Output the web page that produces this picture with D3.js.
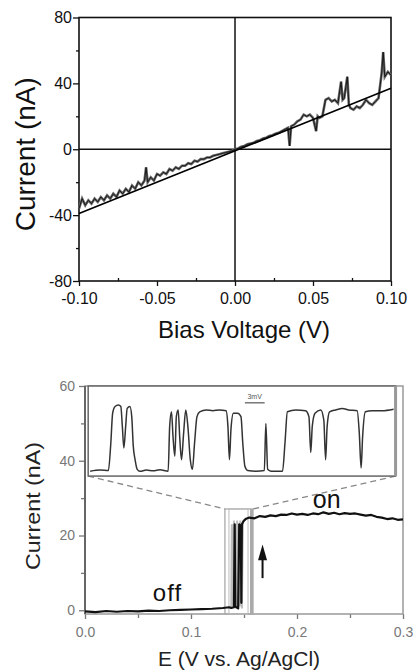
<!DOCTYPE html>
<html>
<head>
<meta charset="utf-8">
<script src="https://cdn.jsdelivr.net/npm/d3@7"></script>
<style>
  body { margin: 0; background: #fff; }
  svg { display: block; font-family: "Liberation Sans", Arial, sans-serif; }
</style>
</head>
<body>
<div id="chart"></div>
<script>
// ---- top panel: I-V curve ----
var ivVoltage = [-0.100,-0.098,-0.096,-0.094,-0.092,-0.090,-0.088,-0.086,-0.084,-0.082,-0.080,-0.078,-0.076,-0.074,-0.072,-0.070,-0.068,-0.066,-0.064,-0.062,-0.060,-0.058,-0.057,-0.056,-0.054,-0.052,-0.050,-0.048,-0.046,-0.044,-0.042,-0.040,-0.038,-0.036,-0.034,-0.032,-0.030,-0.028,-0.026,-0.024,-0.022,-0.020,-0.018,-0.016,-0.014,-0.012,-0.010,-0.008,-0.006,-0.004,-0.002,0.000,0.002,0.004,0.006,0.008,0.010,0.012,0.014,0.016,0.018,0.020,0.022,0.024,0.026,0.028,0.030,0.032,0.034,0.035,0.036,0.038,0.040,0.042,0.044,0.046,0.048,0.050,0.052,0.053,0.054,0.056,0.058,0.060,0.062,0.064,0.066,0.068,0.069,0.070,0.072,0.073,0.074,0.076,0.078,0.080,0.082,0.084,0.086,0.088,0.090,0.092,0.094,0.095,0.096,0.098,0.100];
var ivCurrent = [-36,-30,-34,-31,-33,-30,-32,-29,-31,-28,-30,-27,-29,-25,-27,-24,-26,-22,-24,-20,-22,-19,-11,-20,-17,-19,-15,-16,-14,-15,-12,-13,-11,-12,-10,-10,-8.5,-9,-7,-7.5,-6,-6,-5,-5,-4,-3.5,-3,-2.5,-2,-1.5,-1,0,0.5,1.5,2,3,3.5,4,5,5.5,6.5,7,8,8.5,9.5,10,11,12,13,2,14,15,17,18,21,20,21,19,11,20,19,20,30,31,29,30,28,41,30,31,44,27,25,24,26,25,27,30,28,27,29,31,46,59,44,47,45];
var fitVoltage = [-0.1, 0.1];
var fitCurrent = [-39, 37];
var topXTicks = [-0.10, -0.05, 0.00, 0.05, 0.10];
var topXLabels = ["-0.10", "-0.05", "0.00", "0.05", "0.10"];
var topYTicks = [-80, -40, 0, 40, 80];
var topYLabels = ["-80", "-40", "0", "40", "80"];

// ---- bottom panel: switching vs potential ----
var swE = [0.000,0.010,0.020,0.030,0.040,0.050,0.060,0.070,0.080,0.090,0.100,0.110,0.120,0.130,0.136,0.1380,0.1405,0.1412,0.1418,0.1445,0.1455,0.1470,0.1475,0.1480,0.150,0.152,0.155,0.160,0.165,0.170,0.175,0.180,0.185,0.190,0.195,0.200,0.205,0.210,0.215,0.220,0.225,0.230,0.235,0.240,0.245,0.250,0.255,0.260,0.265,0.270,0.275,0.280,0.285,0.290,0.295,0.300];
var swI = [-0.3,-0.5,-0.2,-0.4,-0.2,-0.3,-0.1,-0.2,0.0,0.1,0.2,0.3,0.4,0.6,0.8,0.6,0.8,23,1,0.5,23,22.5,2,23,24,24.5,24.8,24.6,25.2,25.0,25.4,25.2,25.6,25.5,25.9,25.6,25.8,25.5,25.9,25.7,26.2,25.8,26.1,25.7,26.0,25.8,25.9,25.6,25.3,25.5,25.0,24.8,24.4,24.6,24.2,24.3];
// grey shaded repeated sweeps in the switching window
var greyE = [0.1370,0.1380,0.1385,0.1390,0.1395,0.1400,0.1405,0.1410,0.1415,0.1420,0.1425,0.1430,0.1435,0.1440,0.1445,0.1450,0.1455,0.1460,0.1465,0.1470,0.1475,0.1480,0.1490];
var greyI = [0.5,1,23,3,22,1,24,2,23,0.5,22,2,24,1,23,3,22,1,24,2,23,0.5,24];
// inset trace (arbitrary time units, current in nA)
var insetT = [0,3.3,6.0,6.8,7.4,8.2,9.3,10.1,10.6,11.1,11.7,12.2,13.1,13.7,14.2,14.8,15.5,16.4,18.5,20.8,23.0,25.7,26.2,26.8,27.3,27.9,28.4,29.0,29.5,30.1,30.8,31.5,32.2,33.0,33.7,34.4,35.2,36.1,38.3,40.4,42.6,44.8,45.4,45.9,46.4,47.2,48.6,49.7,50.3,51.0,51.9,54.6,57.4,57.9,58.5,59.6,63.4,64.2,65.0,67.8,71.0,72.1,72.7,73.2,74.1,76.0,77.0,77.6,78.1,78.9,80.9,83.1,85.2,88.0,88.7,89.3,89.8,90.7,92.9,96.2,100];
var insetI = [37.2,37.5,37.4,44.7,52.7,54.5,54.9,54.5,49.2,43.4,49.2,54.0,54.5,51.8,43.9,40.3,37.7,37.2,37.5,37.3,37.6,37.2,49.2,53.1,46.5,41.2,51.8,53.6,46.5,40.3,47.4,53.6,49.2,40.3,37.7,44.7,51.8,53.1,53.6,53.4,53.6,53.4,49.2,40.3,48.4,52.7,52.7,51.8,44.7,38.5,37.4,37.2,37.4,50.0,37.7,37.2,37.2,44.7,53.1,53.6,53.4,51.8,42.2,49.2,52.7,53.6,50.9,40.3,49.2,53.1,53.6,54.0,53.6,53.4,47.4,38.1,46.5,53.1,53.4,53.4,53.8];
var botXTicks = [0.0, 0.1, 0.2, 0.3];
var botXLabels = ["0.0", "0.1", "0.2", "0.3"];
var botYTicks = [0, 20, 40, 60];
var botYLabels = ["0", "20", "40", "60"];
// annotation boxes in data units
var insetBox = { e0: 0.003, e1: 0.293, i0: 35.9, i1: 60 };
var zoomBox = { e0: 0.132, e1: 0.1585, i1: 27.1 };
var zoomInner = { e0: 0.1358, e1: 0.1538 };

var svg = d3.select("#chart").append("svg")
    .attr("width", 417)
    .attr("height", 671);

// ================= top panel =================
var xTop = d3.scaleLinear().domain([-0.1, 0.1]).range([79, 391]);
var yTop = d3.scaleLinear().domain([-80, 80]).range([281, 17.5]);
var topG = svg.append("g");

// minor ticks
topG.append("g")
    .attr("transform", `translate(0, ${yTop(-80)})`)
    .call(d3.axisBottom(xTop).tickValues([-0.075, -0.025, 0.025, 0.075]).tickSize(-3).tickFormat(""))
    .call(g => g.select(".domain").remove());
topG.append("g")
    .attr("transform", `translate(${xTop(-0.1)}, 0)`)
    .call(d3.axisLeft(yTop).tickValues([-60, -20, 20, 60]).tickSize(3).tickFormat(""))
    .call(g => g.select(".domain").remove());

var topX = topG.append("g")
    .attr("transform", `translate(0, ${yTop(-80)})`)
    .call(d3.axisBottom(xTop).tickValues(topXTicks).tickSize(5).tickPadding(7)
        .tickFormat((d, i) => topXLabels[i]));
topX.select(".domain").remove();
topX.selectAll("text").attr("font-size", 16).attr("font-family", "Liberation Sans, Arial").attr("fill", "#111");

var topY = topG.append("g")
    .attr("transform", `translate(${xTop(-0.1)}, 0)`)
    .call(d3.axisLeft(yTop).tickValues(topYTicks).tickSize(6).tickPadding(1)
        .tickFormat((d, i) => topYLabels[i]));
topY.select(".domain").remove();
topY.selectAll("text").attr("font-size", 16).attr("font-family", "Liberation Sans, Arial").attr("fill", "#111");
topG.selectAll(".tick line").attr("stroke", "#111").attr("stroke-width", 1.3);

// frame + zero cross
topG.append("rect")
    .attr("x", xTop(-0.1)).attr("y", yTop(80))
    .attr("width", xTop(0.1) - xTop(-0.1)).attr("height", yTop(-80) - yTop(80))
    .attr("fill", "none").attr("stroke", "#111").attr("stroke-width", 1.6);
topG.append("line")
    .attr("x1", xTop(0)).attr("x2", xTop(0)).attr("y1", yTop(80)).attr("y2", yTop(-80))
    .attr("stroke", "#111").attr("stroke-width", 1.5);
topG.append("line")
    .attr("x1", xTop(-0.1)).attr("x2", xTop(0.1)).attr("y1", yTop(0)).attr("y2", yTop(0))
    .attr("stroke", "#111").attr("stroke-width", 1.5);

// measured trace
var ivLine = d3.line().x(d => xTop(d[0])).y(d => yTop(d[1]));
topG.append("path")
    .datum(ivVoltage.map((v, i) => [v, ivCurrent[i]]))
    .attr("d", ivLine)
    .attr("fill", "none").attr("stroke", "#666").attr("stroke-width", 2.6);
topG.append("path")
    .datum(ivVoltage.map((v, i) => [v, ivCurrent[i]]))
    .attr("d", ivLine)
    .attr("fill", "none").attr("stroke", "#111").attr("stroke-width", 0.9);
// linear fit
topG.append("path")
    .datum(fitVoltage.map((v, i) => [v, fitCurrent[i]]))
    .attr("d", ivLine)
    .attr("fill", "none").attr("stroke", "#000").attr("stroke-width", 1.6);

topG.append("text")
    .attr("transform", `translate(35, ${yTop(0) + 5}) rotate(-90)`)
    .attr("text-anchor", "middle")
    .attr("font-size", 28)
    .attr("fill", "#111")
    .text("Current (nA)");
topG.append("text")
    .attr("x", 244).attr("y", 338)
    .attr("text-anchor", "middle")
    .attr("font-size", 24)
    .attr("fill", "#111")
    .text("Bias Voltage (V)");

// ================= bottom panel =================
var xBot = d3.scaleLinear().domain([0, 0.3]).range([85, 403]);
var yBot = d3.scaleLinear().domain([-1, 60]).range([614, 386]);
var botG = svg.append("g");

botG.append("g")
    .attr("transform", `translate(0, ${yBot(-1)})`)
    .call(d3.axisBottom(xBot).tickValues([0.05, 0.15, 0.25]).tickSize(4).tickFormat(""))
    .call(g => g.select(".domain").remove());
botG.append("g")
    .attr("transform", `translate(${xBot(0)}, 0)`)
    .call(d3.axisLeft(yBot).tickValues([10, 30, 50]).tickSize(4).tickFormat(""))
    .call(g => g.select(".domain").remove());

var botX = botG.append("g")
    .attr("transform", `translate(0, ${yBot(-1)})`)
    .call(d3.axisBottom(xBot).tickValues(botXTicks).tickSize(5).tickPadding(8)
        .tickFormat((d, i) => botXLabels[i]));
botX.select(".domain").remove();
botX.selectAll("text").attr("font-size", 14).attr("fill", "#777");

var botY = botG.append("g")
    .attr("transform", `translate(${xBot(0)}, 0)`)
    .call(d3.axisLeft(yBot).tickValues(botYTicks).tickSize(6).tickPadding(4)
        .tickFormat((d, i) => botYLabels[i]));
botY.select(".domain").remove();
botY.selectAll("text").attr("font-size", 14).attr("fill", "#777");
botG.selectAll(".tick line").attr("stroke", "#777").attr("stroke-width", 1.3);

// frame
botG.append("rect")
    .attr("x", xBot(0)).attr("y", yBot(60))
    .attr("width", xBot(0.3) - xBot(0)).attr("height", yBot(-1) - yBot(60))
    .attr("fill", "none").attr("stroke", "#999").attr("stroke-width", 1.5);
botG.append("line")
    .attr("x1", xBot(0)).attr("x2", xBot(0)).attr("y1", yBot(60)).attr("y2", yBot(-1))
    .attr("stroke", "#666").attr("stroke-width", 2);

// zoom window boxes
botG.append("rect")
    .attr("x", xBot(zoomBox.e0)).attr("y", yBot(zoomBox.i1))
    .attr("width", xBot(zoomBox.e1) - xBot(zoomBox.e0)).attr("height", yBot(-1) - yBot(zoomBox.i1))
    .attr("fill", "none").attr("stroke", "#aaa").attr("stroke-width", 1.3);
botG.append("rect")
    .attr("x", xBot(zoomInner.e0)).attr("y", yBot(zoomBox.i1))
    .attr("width", xBot(zoomInner.e1) - xBot(zoomInner.e0)).attr("height", yBot(-1) - yBot(zoomBox.i1))
    .attr("fill", "none").attr("stroke", "#bbb").attr("stroke-width", 1);
botG.append("line")
    .attr("x1", xBot(zoomBox.e1) - 1.5).attr("x2", xBot(zoomBox.e1) - 1.5)
    .attr("y1", yBot(zoomBox.i1)).attr("y2", yBot(-1))
    .attr("stroke", "#aaa").attr("stroke-width", 3);

var swLine = d3.line().x(d => xBot(d[0])).y(d => yBot(d[1]));
botG.append("path")
    .datum(greyE.map((e, i) => [e, greyI[i]]))
    .attr("d", swLine)
    .attr("fill", "none").attr("stroke", "#bbb").attr("stroke-width", 2);
botG.append("path")
    .datum(swE.map((e, i) => [e, swI[i]]))
    .attr("d", swLine)
    .attr("fill", "none").attr("stroke", "#111").attr("stroke-width", 2.2)
    .attr("stroke-linejoin", "round");

// dashed connectors
botG.append("line")
    .attr("x1", xBot(insetBox.e0)).attr("y1", yBot(insetBox.i0))
    .attr("x2", xBot(zoomBox.e0)).attr("y2", yBot(zoomBox.i1))
    .attr("stroke", "#888").attr("stroke-width", 1.3).attr("stroke-dasharray", "6,4");
botG.append("line")
    .attr("x1", xBot(insetBox.e1)).attr("y1", yBot(insetBox.i0))
    .attr("x2", xBot(zoomBox.e1)).attr("y2", yBot(zoomBox.i1))
    .attr("stroke", "#888").attr("stroke-width", 1.3).attr("stroke-dasharray", "6,4");

// inset
botG.append("rect")
    .attr("x", xBot(insetBox.e0)).attr("y", yBot(insetBox.i1))
    .attr("width", xBot(insetBox.e1) - xBot(insetBox.e0)).attr("height", yBot(insetBox.i0) - yBot(insetBox.i1))
    .attr("fill", "#fff").attr("stroke", "#666").attr("stroke-width", 1.5);
botG.append("line")
    .attr("x1", xBot(insetBox.e1)).attr("x2", xBot(insetBox.e1))
    .attr("y1", yBot(insetBox.i1)).attr("y2", yBot(insetBox.i0))
    .attr("stroke", "#999").attr("stroke-width", 3);
var xIn = d3.scaleLinear().domain([0, 100]).range([xBot(insetBox.e0) + 2, xBot(insetBox.e1) - 2]);
botG.append("path")
    .datum(insetT.map((t, i) => [t, insetI[i]]))
    .attr("d", d3.line().curve(d3.curveMonotoneX).x(d => xIn(d[0])).y(d => yBot(d[1])))
    .attr("fill", "none").attr("stroke", "#333").attr("stroke-width", 1.5)
    .attr("stroke-linejoin", "round");
// 3 mV scale bar
botG.append("line")
    .attr("x1", xIn(51)).attr("x2", xIn(57.5)).attr("y1", yBot(55.5)).attr("y2", yBot(55.5))
    .attr("stroke", "#555").attr("stroke-width", 1.2);
botG.append("text")
    .attr("x", xIn(54.2)).attr("y", yBot(56.6))
    .attr("text-anchor", "middle").attr("font-size", 7).attr("fill", "#555")
    .text("3mV");

// arrow
botG.append("line")
    .attr("x1", xBot(0.1675)).attr("x2", xBot(0.1675)).attr("y1", yBot(8.6)).attr("y2", yBot(14))
    .attr("stroke", "#111").attr("stroke-width", 2);
botG.append("path")
    .attr("d", d3.line()([[xBot(0.1675) - 4.5, yBot(13.4)], [xBot(0.1675), yBot(17.6)], [xBot(0.1675) + 4.5, yBot(13.4)]]) + "Z")
    .attr("fill", "#111");

botG.append("text")
    .attr("x", xBot(0.0778)).attr("y", yBot(2.5))
    .attr("text-anchor", "middle").attr("font-size", 24).attr("letter-spacing", 1)
    .attr("fill", "#111").text("off");
botG.append("text")
    .attr("x", xBot(0.228)).attr("y", yBot(27.4))
    .attr("text-anchor", "middle").attr("font-size", 25)
    .attr("fill", "#111").text("on");

botG.append("text")
    .attr("transform", `translate(40, 506) rotate(-90)`)
    .attr("text-anchor", "middle")
    .attr("font-size", 21)
    .attr("textLength", 128).attr("lengthAdjust", "spacingAndGlyphs")
    .attr("fill", "#222")
    .text("Current (nA)");
botG.append("text")
    .attr("x", 239).attr("y", 666)
    .attr("text-anchor", "middle")
    .attr("font-size", 21)
    .attr("fill", "#222")
    .text("E (V vs. Ag/AgCl)");
</script>
</body>
</html>
